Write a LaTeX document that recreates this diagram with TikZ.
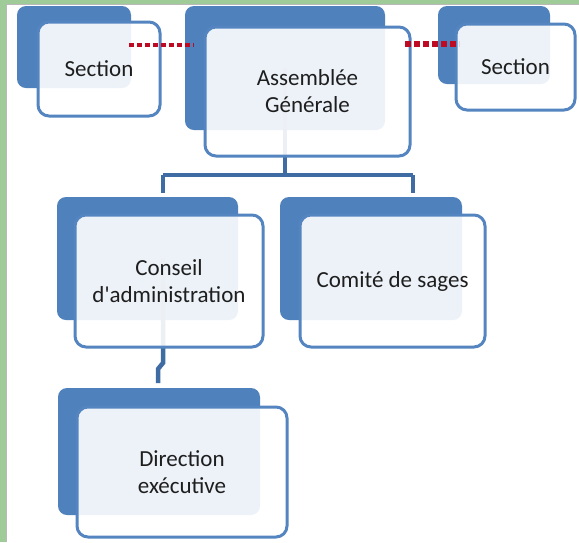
\documentclass[tikz,border=0pt]{standalone}
\usepackage{fontspec}
\setmainfont{Carlito}
\begin{document}
\begin{tikzpicture}[x=1pt,y=-1pt,
  backbox/.style={rectangle, rounded corners=9pt, fill=ofblue, draw=none, inner sep=0pt, outer sep=0pt},
  frontbox/.style={rectangle, rounded corners=11pt, fill=white, fill opacity=0.9, text opacity=1,
    draw=frblue, draw opacity=1, line width=3pt, inner sep=0pt, outer sep=0pt, align=center, text=txt,
    font=\fontsize{23}{27}\selectfont},
  conn/.style={draw=cnblue, line width=4.5pt},
  dots/.style={draw=dred, line width=4.5pt, dash pattern=on 5pt off 3pt},
  thickdots/.style={draw=dred, line width=5.5pt, dash pattern=on 6pt off 3pt}
]
\definecolor{ofblue}{HTML}{4F81BD}
\definecolor{frblue}{HTML}{5585C0}
\definecolor{cnblue}{HTML}{3F6CA3}
\definecolor{dred}{HTML}{BE0A22}
\definecolor{txt}{HTML}{1E1E1E}
\definecolor{bggreen}{HTML}{9ECB98}
\useasboundingbox (0,0) rectangle (579,542);
\fill[bggreen] (0,0) rectangle (579,542);
\fill[white] (6,4) rectangle (579,542);
\draw[gray!55, line width=1pt] (6.5,542) -- (6.5,4.5) -- (579,4.5);

% connector joints
\coordinate (jm) at (285,175);
\coordinate (jl) at (163,175);
\coordinate (jr) at (413,175);
\coordinate (jla) at (163,193);
\coordinate (jra) at (413,193);
\coordinate (c1) at (163,363);
\coordinate (c2) at (158,369);
\coordinate (c3) at (158,383);

% back boxes
\node[backbox, minimum width=114pt, minimum height=82pt] (lsb) at (74,47) {};
\node[backbox, minimum width=200pt, minimum height=124pt] (agb) at (285,68) {};
\node[backbox, minimum width=112pt, minimum height=78pt] (rsb) at (494,45) {};
\node[backbox, minimum width=181pt, minimum height=123pt] (cab) at (147.5,258.5) {};
\node[backbox, minimum width=182pt, minimum height=123pt] (cmb) at (371,258.5) {};
\node[backbox, minimum width=202pt, minimum height=127pt] (dib) at (159,451.5) {};

% connectors
\draw[conn] (agb.center) -- (jm);
\draw[conn] (jl) -- (jr);
\draw[conn] (jl) -- (jla);
\draw[conn] (jr) -- (jra);
\draw[conn] (cab.center -| c1) -- (c1) -- (c2) -- (c3);

% front boxes
\node[frontbox, minimum width=122pt, minimum height=94pt] (lsf) at (99,69) {Section};
\node[frontbox, minimum width=205pt, minimum height=129pt] (agf) at (307.5,91.5) {Assemblée\\Générale};
\node[frontbox, minimum width=119pt, minimum height=86pt] (rsf) at (515.5,67) {Section};
\node[frontbox, minimum width=188pt, minimum height=132pt] (caf) at (169,281) {Conseil\\d\textquotesingle administration};
\node[frontbox, minimum width=185pt, minimum height=132pt] (cmf) at (392.5,281) {Comité de sages};
\node[frontbox, minimum width=210pt, minimum height=130pt] (dif) at (182,472) {Direction\\exécutive};

% dotted red links
\coordinate (dl1) at (129,45);
\coordinate (dl2) at (194,45);
\coordinate (dr1) at (405,44);
\coordinate (dr2) at (459,44);
\draw[dots] (dl1) -- (dl2);
\draw[thickdots] (dr1) -- (dr2);
\end{tikzpicture}
\end{document}
